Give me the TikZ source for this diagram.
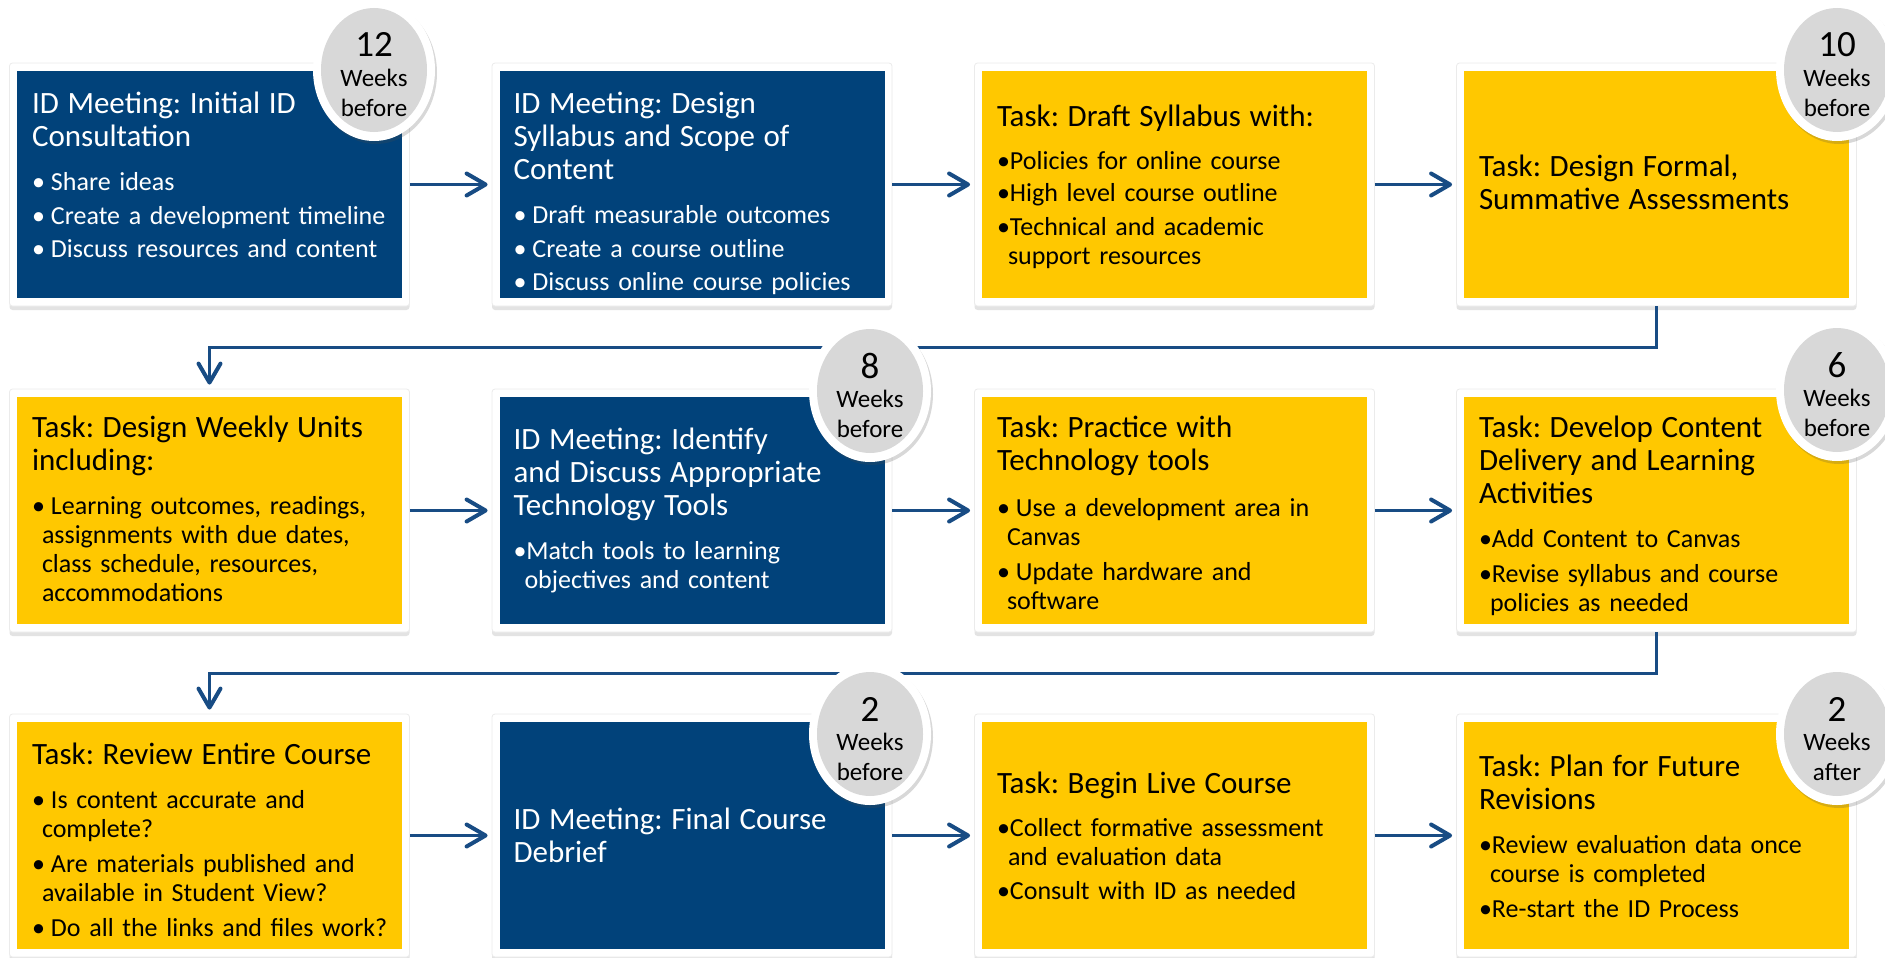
\documentclass[tikz,border=0pt]{standalone}
\usepackage{fontspec}
\setmainfont{Carlito}
\usetikzlibrary{shapes.geometric,arrows.meta,shadows}
\definecolor{navy}{RGB}{1,66,122}
\definecolor{gold}{RGB}{255,200,0}
\definecolor{discgray}{RGB}{216,216,216}
\definecolor{arrowblue}{RGB}{24,76,132}
\frenchspacing

\newcommand\ttl[1]{{\fontsize{31}{33}\selectfont #1\par}}
\newcommand\gp[1]{\vspace{#1pt}}
\newcommand\sbul[1]{\fontsize{26}{29}\selectfont\hangindent=10pt\hangafter=1\noindent\makebox[19pt][l]{•}#1\par}
\newcommand\tbul[1]{\fontsize{26}{29}\selectfont\hangindent=11pt\hangafter=1\noindent\makebox[13pt][l]{•}#1\par}
\newcommand\wk[2]{{\fontsize{37}{37}\selectfont #1\par}{\fontsize{25}{29.5}\selectfont Weeks\par #2\par}}

\begin{document}
\begin{tikzpicture}[x=1pt,y=-1pt,
  frame/.style={rectangle, rounded corners=3pt, fill=white, draw=black!8, line width=0.8pt,
     minimum width=400pt, minimum height=243pt, inner sep=0pt,
     drop shadow={shadow xshift=0pt, shadow yshift=-4pt, opacity=.18, fill=black!60}},
  boxbase/.style={rectangle, minimum width=385pt, minimum height=227pt, inner sep=0pt},
  navybox/.style={boxbase, fill=navy},
  goldbox/.style={boxbase, fill=gold},
  txt/.style={anchor=base west, inner sep=0pt, text width=400pt, align=left,
     font=\fontsize{26}{29}\selectfont},
  wtxt/.style={txt, text=white},
  btxt/.style={txt, text=black},
  conn/.style={draw=arrowblue, line width=2.5pt, shorten >=4pt,
     -{Straight Barb[length=19pt,width=22pt,line width=4pt,round]}},
  ring/.style={ellipse, fill=white, minimum width=122pt, minimum height=142pt, inner sep=0pt,
     drop shadow={shadow xshift=2pt, shadow yshift=-3pt, opacity=.22, fill=black!70}},
  disc/.style={ellipse, fill=discgray, minimum width=106pt, minimum height=124pt, inner sep=0pt},
  wlabel/.style={anchor=base, inner sep=0pt, text width=110pt, align=center, text=black}
]
\useasboundingbox (0,0) rectangle (1885,958);

% box centres
\coordinate (c1) at (209.5,184.5);
\coordinate (c2) at (692,184.5);
\coordinate (c3) at (1174.5,184.5);
\coordinate (c4) at (1656.5,184.5);
\coordinate (c5) at (209.5,510.5);
\coordinate (c6) at (692,510.5);
\coordinate (c7) at (1174.5,510.5);
\coordinate (c8) at (1656.5,510.5);
\coordinate (c9) at (209.5,835.5);
\coordinate (c10) at (692,835.5);
\coordinate (c11) at (1174.5,835.5);
\coordinate (c12) at (1656.5,835.5);

% frames
\foreach \i in {1,...,12} { \node[frame] (f\i) at (c\i) {}; }

% coloured boxes
\node[navybox] (b1) at (c1) {};
\node[navybox] (b2) at (c2) {};
\node[goldbox] (b3) at (c3) {};
\node[goldbox] (b4) at (c4) {};
\node[goldbox] (b5) at (c5) {};
\node[navybox] (b6) at (c6) {};
\node[goldbox] (b7) at (c7) {};
\node[goldbox] (b8) at (c8) {};
\node[goldbox] (b9) at (c9) {};
\node[navybox] (b10) at (c10) {};
\node[goldbox] (b11) at (c11) {};
\node[goldbox] (b12) at (c12) {};

% texts
\node[wtxt] (t1) at ([shift={(15,43)}]b1.north west) {%
  \ttl{ID Meeting: Initial ID\newline Consultation}\gp{15}%
  \sbul{Share ideas}\gp{5}%
  \sbul{Create a development timeline}\gp{4}%
  \sbul{Discuss resources and content}};
\node[wtxt] (t2) at ([shift={(14,43)}]b2.north west) {%
  \ttl{ID Meeting: Design\newline Syllabus and Scope of\newline Content}\gp{15}%
  \sbul{Draft measurable outcomes}\gp{5}%
  \sbul{Create a course outline}\gp{4}%
  \sbul{Discuss online course policies}};
\node[btxt] (t3) at ([shift={(15,56)}]b3.north west) {%
  \ttl{Task: Draft Syllabus with:}\gp{14}%
  \tbul{Policies for online course}\gp{3}%
  \tbul{High level course outline}\gp{5}%
  \tbul{Technical and academic\newline support resources}};
\node[btxt] (t4) at ([shift={(15,106)}]b4.north west) {%
  \ttl{Task: Design Formal,\newline Summative Assessments}};
\node[btxt] (t5) at ([shift={(15,41)}]b5.north west) {%
  \ttl{Task: Design Weekly Units\newline including:}\gp{15}%
  \sbul{Learning outcomes, readings,\newline assignments with due dates,\newline class schedule, resources,\newline accommodations}};
\node[wtxt] (t6) at ([shift={(14,53)}]b6.north west) {%
  \ttl{ID Meeting: Identify\newline and Discuss Appropriate\newline Technology Tools}\gp{15}%
  \tbul{Match tools to learning\newline objectives and content}};
\node[btxt] (t7) at ([shift={(15,41)}]b7.north west) {%
  \ttl{Task: Practice with\newline Technology tools}\gp{17}%
  \sbul{Use a development area in\newline Canvas}\gp{6}%
  \sbul{Update hardware and\newline software}};
\node[btxt] (t8) at ([shift={(15,41)}]b8.north west) {%
  \ttl{Task: Develop Content\newline Delivery and Learning\newline Activities}\gp{15}%
  \tbul{Add Content to Canvas}\gp{6}%
  \tbul{Revise syllabus and course\newline policies as needed}};
\node[btxt] (t9) at ([shift={(15,43)}]b9.north west) {%
  \ttl{Task: Review Entire Course}\gp{15}%
  \sbul{Is content accurate and\newline complete?}\gp{6}%
  \sbul{Are materials published and\newline available in Student View?}\gp{6}%
  \sbul{Do all the links and files work?}};
\node[wtxt] (t10) at ([shift={(14,108)}]b10.north west) {%
  \ttl{ID Meeting: Final Course\newline Debrief}};
\node[btxt] (t11) at ([shift={(15,72)}]b11.north west) {%
  \ttl{Task: Begin Live Course}\gp{14}%
  \tbul{Collect formative assessment\newline and evaluation data}\gp{5}%
  \tbul{Consult with ID as needed}};
\node[btxt] (t12) at ([shift={(15,55)}]b12.north west) {%
  \ttl{Task: Plan for Future\newline Revisions}\gp{15}%
  \tbul{Review evaluation data once\newline course is completed}\gp{6}%
  \tbul{Re-start the ID Process}};

% connectors
\draw[conn] (f1.east) -- (f2.west);
\draw[conn] (f2.east) -- (f3.west);
\draw[conn] (f3.east) -- (f4.west);
\draw[conn] (f4.south) -- ++(0,41) -| (f5.north);
\draw[conn] (f5.east) -- (f6.west);
\draw[conn] (f6.east) -- (f7.west);
\draw[conn] (f7.east) -- (f8.west);
\draw[conn] (f8.south) -- ++(0,41) -| (f9.north);
\draw[conn] (f9.east) -- (f10.west);
\draw[conn] (f10.east) -- (f11.west);
\draw[conn] (f11.east) -- (f12.west);

% week circles
\node[ring] (r1) at (374,70) {};   \node[disc] (d1) at (r1) {};
\node[ring] (r2) at (1837,70) {};  \node[disc] (d2) at (r2) {};
\node[ring] (r3) at (870,391) {};  \node[disc] (d3) at (r3) {};
\node[ring] (r4) at (1837,390) {}; \node[disc] (d4) at (r4) {};
\node[ring] (r5) at (870,734) {};  \node[disc] (d5) at (r5) {};
\node[ring] (r6) at (1837,734) {}; \node[disc] (d6) at (r6) {};

\node[wlabel] (w1) at ([yshift=13pt]d1.center) {\wk{12}{before}};
\node[wlabel] (w2) at ([yshift=13pt]d2.center) {\wk{10}{before}};
\node[wlabel] (w3) at ([yshift=13pt]d3.center) {\wk{8}{before}};
\node[wlabel] (w4) at ([yshift=13pt]d4.center) {\wk{6}{before}};
\node[wlabel] (w5) at ([yshift=13pt]d5.center) {\wk{2}{before}};
\node[wlabel] (w6) at ([yshift=13pt]d6.center) {\wk{2}{after}};
\end{tikzpicture}
\end{document}
